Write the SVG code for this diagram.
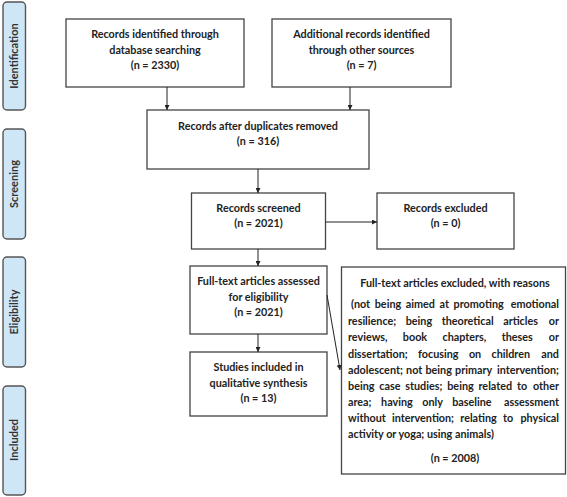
<svg xmlns="http://www.w3.org/2000/svg" width="567" height="497" viewBox="0 0 567 497">
<style>
.box{fill:#fff;stroke:#444;stroke-width:1.3}
.side{fill:#cfe6f6;stroke:#555;stroke-width:1.4}
text{font-family:Lato,"Liberation Sans",sans-serif;font-weight:bold;font-size:10.8px;fill:#222}
.c{text-anchor:middle}
.e{text-anchor:end}
.st{font-size:11px;fill:#333}
.con line{stroke:#222;stroke-width:1}
</style>
<defs>
<marker id="ah" viewBox="0 0 10 10" refX="10" refY="5" markerWidth="5" markerHeight="5" orient="auto" markerUnits="userSpaceOnUse">
<path d="M0,0 L10,5 L0,10 z" fill="#222"/>
</marker>
</defs>
<rect width="567" height="497" fill="#fff"/>
<g id="side-identification"><rect class="side" x="3" y="2" width="22.5" height="108" rx="4"/><text class="c st" transform="translate(18,56) rotate(-90)">Identification</text></g>
<g id="side-screening"><rect class="side" x="3" y="129" width="22.5" height="110" rx="4"/><text class="c st" transform="translate(18,184) rotate(-90)">Screening</text></g>
<g id="side-eligibility"><rect class="side" x="3" y="257" width="22.5" height="110" rx="4"/><text class="c st" transform="translate(18,312) rotate(-90)">Eligibility</text></g>
<g id="side-included"><rect class="side" x="3" y="386" width="22.5" height="109" rx="4"/><text class="c st" transform="translate(18,440) rotate(-90)">Included</text></g>

<g id="n1"><rect class="box" x="66" y="19" width="178" height="68"/>
<text class="c" x="155" y="38">Records identified through</text>
<text class="c" x="155" y="53.5">database searching</text>
<text class="c" x="155" y="69">(n = 2330)</text></g>
<g id="n2"><rect class="box" x="272" y="19" width="179" height="68"/>
<text class="c" x="361.5" y="38">Additional records identified</text>
<text class="c" x="361.5" y="53.5">through other sources</text>
<text class="c" x="361.5" y="69">(n = 7)</text></g>
<g id="n3"><rect class="box" x="147" y="110" width="222" height="59"/>
<text class="c" x="258" y="130">Records after duplicates removed</text>
<text class="c" x="258" y="145">(n = 316)</text></g>
<g id="n4"><rect class="box" x="191.5" y="193" width="134" height="56"/>
<text class="c" x="258.5" y="212">Records screened</text>
<text class="c" x="258.5" y="227">(n = 2021)</text></g>
<g id="n5"><rect class="box" x="377" y="193" width="137" height="56"/>
<text class="c" x="445.5" y="212">Records excluded</text>
<text class="c" x="445.5" y="227">(n = 0)</text></g>
<g id="n6"><rect class="box" x="190" y="266" width="137" height="68"/>
<text class="c" x="258.5" y="285">Full-text articles assessed</text>
<text class="c" x="258.5" y="300.5">for eligibility</text>
<text class="c" x="258.5" y="316">(n = 2021)</text></g>
<g id="n7"><rect class="box" x="190" y="352" width="137" height="64"/>
<text class="c" x="258.5" y="371">Studies included in</text>
<text class="c" x="258.5" y="386.5">qualitative synthesis</text>
<text class="c" x="258.5" y="402">(n = 13)</text></g>
<g id="n8"><rect class="box" x="341.5" y="267" width="224" height="207"/>
<text class="c" x="455" y="287">Full-text articles excluded, with reasons</text>
<text x="351" y="308" word-spacing="2">(not being aimed at promoting</text><text class="e" x="559" y="308">emotional</text>
<text x="348" y="324.5" word-spacing="6.9">resilience; being theoretical articles</text><text class="e" x="559" y="324.5">or</text>
<text x="348" y="341" word-spacing="12.7">reviews, book chapters, theses</text><text class="e" x="559" y="341">or</text>
<text x="348" y="357.5" word-spacing="7.7">dissertation; focusing on children</text><text class="e" x="559" y="357.5">and</text>
<text x="348" y="374" word-spacing="0.6">adolescent; not being primary</text><text class="e" x="559" y="374">intervention;</text>
<text x="348" y="390" word-spacing="2.2">being case studies; being related to</text><text class="e" x="559" y="390">other</text>
<text x="348" y="406" word-spacing="6.9">area; having only baseline</text><text class="e" x="559" y="406">assessment</text>
<text x="348" y="422" word-spacing="3.6">without intervention; relating to</text><text class="e" x="559" y="422">physical</text>
<text x="348" y="438">activity or yoga; using animals)</text>
<text class="c" x="455" y="462">(n = 2008)</text></g>

<g id="connectors" class="con">
<line x1="167" y1="87" x2="167" y2="110" marker-end="url(#ah)"/>
<line x1="350" y1="87" x2="350" y2="110" marker-end="url(#ah)"/>
<line x1="258" y1="169" x2="258" y2="193" marker-end="url(#ah)"/>
<line x1="325.5" y1="222" x2="377" y2="222" marker-end="url(#ah)"/>
<line x1="258" y1="249" x2="258" y2="266" marker-end="url(#ah)"/>
<line x1="258" y1="334" x2="258" y2="352" marker-end="url(#ah)"/>
<line x1="327" y1="295" x2="340" y2="370" marker-end="url(#ah)"/>
</g>
</svg>
